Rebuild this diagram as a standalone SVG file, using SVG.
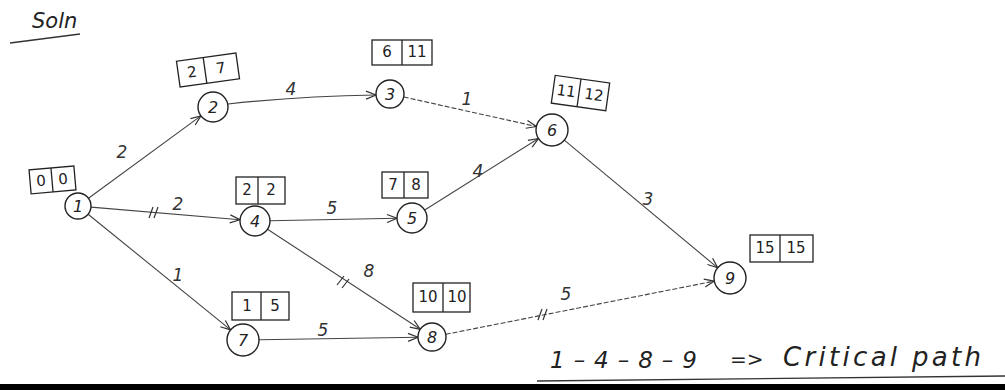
<svg xmlns="http://www.w3.org/2000/svg" width="1005" height="390" viewBox="0 0 1005 390">
<defs>
<style>
.nd{fill:#fff;stroke:#222;stroke-width:1.4}
.nt{font-family:"DejaVu Sans",sans-serif;font-size:16px;fill:#222;text-anchor:middle;dominant-baseline:central;font-style:italic}
.bx{fill:none;stroke:#222;stroke-width:1.3}
.bt{font-family:"DejaVu Sans",sans-serif;font-size:15px;fill:#222;text-anchor:middle;dominant-baseline:central}
.ed{fill:none;stroke:#444;stroke-width:1.1;marker-end:url(#ah)}
.dash{stroke-dasharray:5 2}
.tk{stroke:#333;stroke-width:1.2}
.lb{font-family:"DejaVu Sans",sans-serif;font-size:17px;fill:#333;text-anchor:middle;dominant-baseline:central;font-style:italic}
.hw{font-family:"DejaVu Sans",sans-serif;font-style:italic;fill:#222}
</style>
<marker id="ah" markerWidth="12" markerHeight="10" refX="11" refY="5" orient="auto" markerUnits="userSpaceOnUse">
<path d="M1,1 L11,5 L1,9" fill="none" stroke="#333" stroke-width="1.2"/>
</marker>
</defs>
<rect x="0" y="0" width="1005" height="390" fill="#fff"/>
<g id="connectors">
<line class="ed" x1="88.5" y1="198.3" x2="200.9" y2="115.9"/>
<path class="ed" d="M228,104 Q300,96 376,95"/>
<line class="ed dash" x1="403.7" y1="97" x2="536.4" y2="126.5"/>
<line class="ed" x1="91" y1="207.1" x2="240" y2="219.7"/>
<line class="ed" x1="270" y1="220.7" x2="397" y2="218.3"/>
<line class="ed" x1="424.7" y1="210" x2="538.5" y2="138.5"/>
<line class="ed" x1="564.3" y1="140.2" x2="717.7" y2="267.8"/>
<line class="ed" x1="88.1" y1="214.2" x2="230.6" y2="329.9"/>
<line class="ed" x1="267.5" y1="229.2" x2="420.3" y2="329.3"/>
<line class="ed" x1="259" y1="339.7" x2="418" y2="337.2"/>
<line class="ed dash" x1="445.7" y1="334.3" x2="714.3" y2="281.1"/>
<path class="tk" d="M149,218 L153,207 M154,218 L158,207"/>
<path class="tk" d="M337,285 L344,276 M342,288 L349,279"/>
<path class="tk" d="M538,320 L542,309 M543,320 L547,309"/>
<text class="lb" x="122" y="152">2</text>
<text class="lb" x="291" y="89">4</text>
<text class="lb" x="467" y="99">1</text>
<text class="lb" x="178" y="204">2</text>
<text class="lb" x="332" y="208">5</text>
<text class="lb" x="478" y="171">4</text>
<text class="lb" x="648" y="199">3</text>
<text class="lb" x="178" y="275">1</text>
<text class="lb" x="369" y="271">8</text>
<text class="lb" x="323" y="330">5</text>
<text class="lb" x="566" y="294">5</text>
</g>
<g id="node1">
<circle class="nd" cx="78" cy="206" r="13"/><text class="nt" x="78" y="206">1</text>
<g transform="rotate(-5 52 180)"><rect class="bx" x="30" y="168" width="45" height="24"/><line class="bx" x1="52" y1="168" x2="52" y2="192"/><text class="bt" x="41" y="180">0</text><text class="bt" x="63" y="180">0</text></g>
</g>
<g id="node2">
<circle class="nd" cx="213" cy="107" r="15"/><text class="nt" x="213" y="107">2</text>
<g transform="rotate(-8 208 70)"><rect class="bx" x="178" y="57" width="60" height="26"/><line class="bx" x1="205" y1="57" x2="205" y2="83"/><text class="bt" x="192" y="70">2</text><text class="bt" x="221" y="70">7</text></g>
</g>
<g id="node3">
<circle class="nd" cx="390" cy="94" r="14"/><text class="nt" x="390" y="94">3</text>
<rect class="bx" x="372" y="40" width="60" height="25"/><line class="bx" x1="402" y1="40" x2="402" y2="65"/><text class="bt" x="387" y="52">6</text><text class="bt" x="417" y="52">11</text>
</g>
<g id="node4">
<circle class="nd" cx="255" cy="221" r="15"/><text class="nt" x="255" y="221">4</text>
<rect class="bx" x="236" y="177" width="49" height="27"/><line class="bx" x1="258" y1="177" x2="258" y2="204"/><text class="bt" x="247" y="190">2</text><text class="bt" x="271" y="190">2</text>
</g>
<g id="node5">
<circle class="nd" cx="412" cy="218" r="15"/><text class="nt" x="412" y="218">5</text>
<rect class="bx" x="382" y="172" width="46" height="26"/><line class="bx" x1="404" y1="172" x2="404" y2="198"/><text class="bt" x="393" y="185">7</text><text class="bt" x="416" y="185">8</text>
</g>
<g id="node6">
<circle class="nd" cx="552" cy="130" r="16"/><text class="nt" x="552" y="130">6</text>
<g transform="rotate(8 580 93)"><rect class="bx" x="553" y="79" width="55" height="28"/><line class="bx" x1="579" y1="79" x2="579" y2="107"/><text class="bt" x="566" y="93">11</text><text class="bt" x="594" y="93">12</text></g>
</g>
<g id="node7">
<circle class="nd" cx="243" cy="340" r="16"/><text class="nt" x="243" y="340">7</text>
<rect class="bx" x="232" y="292" width="57" height="28"/><line class="bx" x1="261" y1="292" x2="261" y2="320"/><text class="bt" x="247" y="306">1</text><text class="bt" x="275" y="306">5</text>
</g>
<g id="node8">
<circle class="nd" cx="432" cy="337" r="14"/><text class="nt" x="432" y="337">8</text>
<rect class="bx" x="413" y="283" width="57" height="29"/><line class="bx" x1="443" y1="283" x2="443" y2="312"/><text class="bt" x="428" y="297">10</text><text class="bt" x="457" y="297">10</text>
</g>
<g id="node9">
<circle class="nd" cx="730" cy="278" r="16"/><text class="nt" x="730" y="278">9</text>
<rect class="bx" x="750" y="235" width="63" height="27"/><line class="bx" x1="780" y1="235" x2="780" y2="262"/><text class="bt" x="765" y="248">15</text><text class="bt" x="796" y="248">15</text>
</g>
<g id="notes">
<text class="hw" x="32" y="28" font-size="21">Soln</text>
<line x1="10" y1="43" x2="80" y2="34" stroke="#333" stroke-width="1.3"/>
<text class="hw" x="550" y="368" font-size="23" textLength="147" lengthAdjust="spacing">1 – 4 – 8 – 9</text>
<text class="hw" x="730" y="366" font-size="20">=&gt;</text>
<text class="hw" x="783" y="366" font-size="26" textLength="198" lengthAdjust="spacing">Critical path</text>
<line x1="537" y1="381" x2="1005" y2="376" stroke="#333" stroke-width="1.3"/>
<rect x="0" y="384" width="1005" height="6" fill="#000"/>
</g>
</svg>
